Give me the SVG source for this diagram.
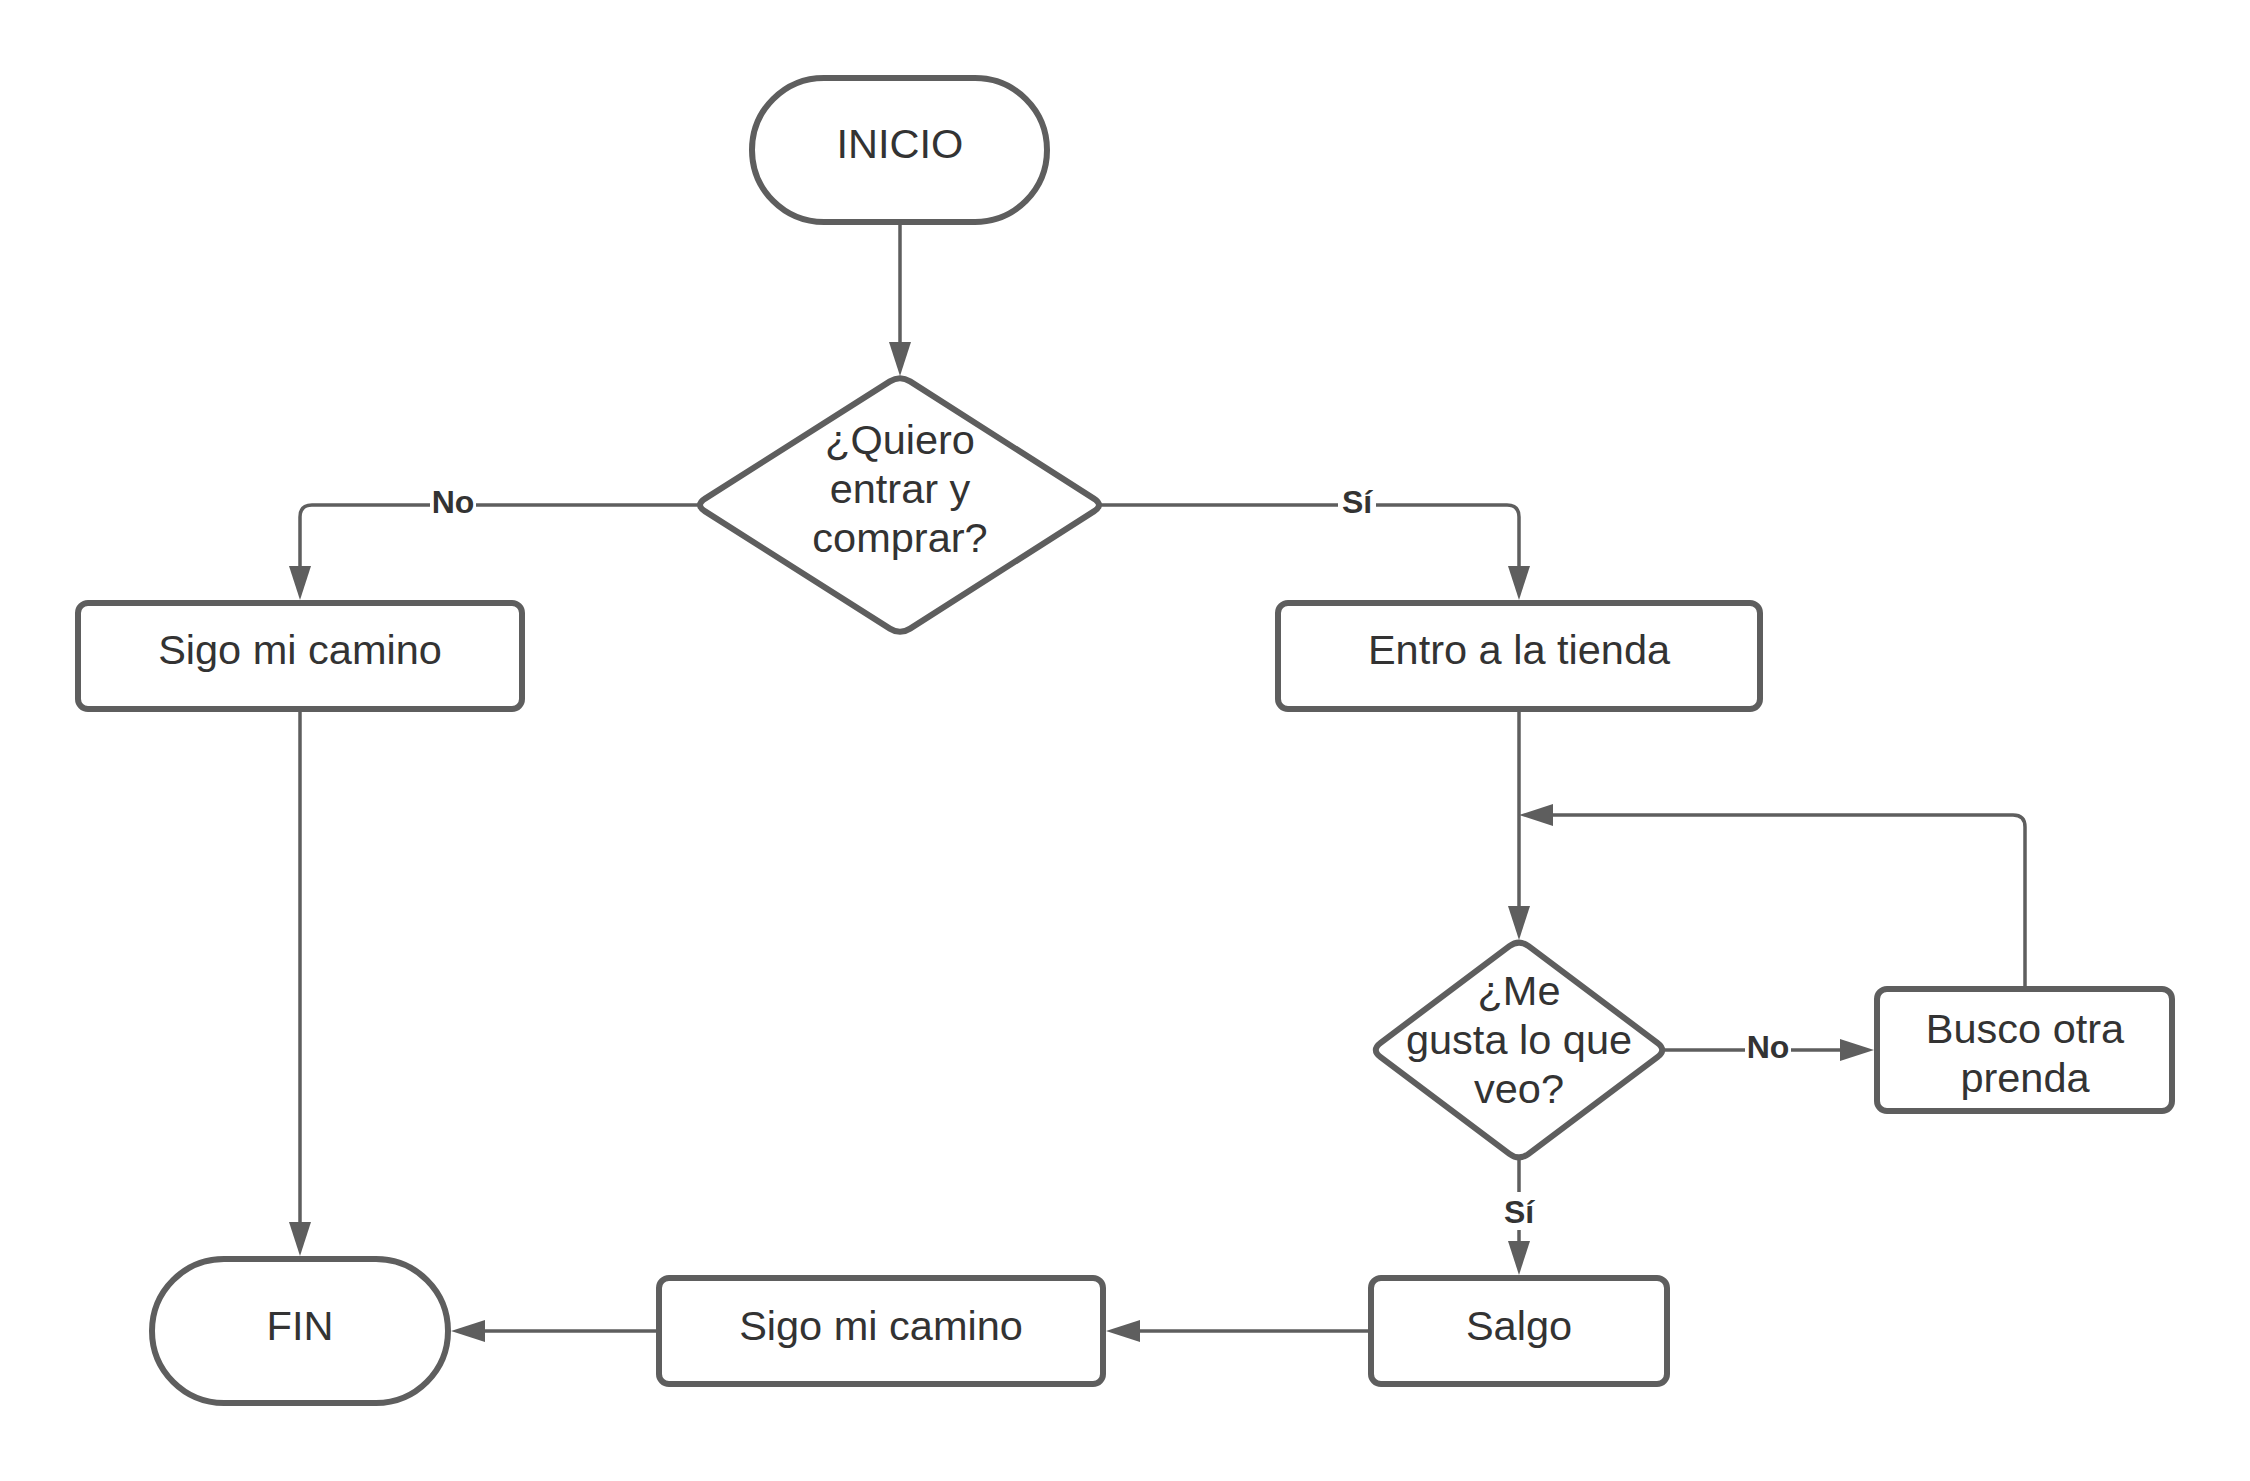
<svg xmlns="http://www.w3.org/2000/svg" width="2250" height="1481" viewBox="0 0 2250 1481">
<style>
.shape{fill:#ffffff;stroke:#5e5e5e;stroke-width:6;stroke-linejoin:round}
.t{font-family:"Liberation Sans",Arial,sans-serif;font-size:41.5px;fill:#333333;text-anchor:middle}
.conn{fill:none;stroke:#5e5e5e;stroke-width:3.5}
.lbl{font-family:"Liberation Sans",Arial,sans-serif;font-size:32px;font-weight:bold;fill:#333333;text-anchor:middle}
.lblbg{fill:#ffffff}
</style>
<defs>
<marker id="arrow" markerUnits="userSpaceOnUse" markerWidth="34" markerHeight="22" viewBox="0 0 34 22" refX="24" refY="11" orient="auto">
<path d="M0,0 L34,11 L0,22 Z" fill="#5e5e5e"/>
</marker>
</defs>
<rect width="2250" height="1481" fill="#ffffff"/>
<g id="connectors">
<path class="conn" d="M900,225 V366" marker-end="url(#arrow)"/>
<path class="conn" d="M699,505 H312 Q300,505 300,517 V590" marker-end="url(#arrow)"/>
<path class="conn" d="M1100,505 H1507 Q1519,505 1519,517 V590" marker-end="url(#arrow)"/>
<path class="conn" d="M1519,712 V930" marker-end="url(#arrow)"/>
<path class="conn" d="M1663,1050 H1864" marker-end="url(#arrow)"/>
<path class="conn" d="M2025,989 V827 Q2025,815 2013,815 H1529" marker-end="url(#arrow)"/>
<path class="conn" d="M1519,1157 V1265" marker-end="url(#arrow)"/>
<path class="conn" d="M1368,1331 H1116" marker-end="url(#arrow)"/>
<path class="conn" d="M656,1331 H461" marker-end="url(#arrow)"/>
<path class="conn" d="M300,712 V1246" marker-end="url(#arrow)"/>
<rect class="lblbg" x="430" y="486" width="46" height="36"/>
<text class="lbl" x="453" y="513">No</text>
<rect class="lblbg" x="1338" y="486" width="38" height="36"/>
<text class="lbl" x="1357" y="513">Sí</text>
<rect class="lblbg" x="1745" y="1031" width="46" height="36"/>
<text class="lbl" x="1768" y="1058">No</text>
<rect class="lblbg" x="1500" y="1192" width="38" height="38"/>
<text class="lbl" x="1519" y="1223">Sí</text>
</g>
<g id="inicio">
<rect class="shape" x="752" y="78" width="295" height="144" rx="72" ry="72"/>
<text class="t" x="900" y="158">INICIO</text>
</g>
<g id="decision1">
<path class="shape" d="M910.1,381.4 L1093.9,498.6 Q1104,505 1093.9,511.4 L910.1,628.6 Q900,635 889.9,628.6 L705.1,511.4 Q695,505 705.1,498.6 L889.9,381.4 Q900,375 910.1,381.4 Z"/>
<text class="t" x="900" y="454">¿Quiero</text>
<text class="t" x="900" y="503">entrar y</text>
<text class="t" x="900" y="552">comprar?</text>
</g>
<g id="sigo1">
<rect class="shape" x="78" y="603" width="444" height="106" rx="10" ry="10"/>
<text class="t" x="300" y="664">Sigo mi camino</text>
</g>
<g id="entro">
<rect class="shape" x="1278" y="603" width="482" height="106" rx="10" ry="10"/>
<text class="t" x="1519" y="664">Entro a la tienda</text>
</g>
<g id="decision2">
<path class="shape" d="M1528.6,946.2 L1657.4,1042.8 Q1667,1050 1657.4,1057.2 L1528.6,1153.8 Q1519,1161 1509.4,1153.8 L1380.6,1057.2 Q1371,1050 1380.6,1042.8 L1509.4,946.2 Q1519,939 1528.6,946.2 Z"/>
<text class="t" x="1519" y="1005">¿Me</text>
<text class="t" x="1519" y="1054">gusta lo que</text>
<text class="t" x="1519" y="1103">veo?</text>
</g>
<g id="busco">
<rect class="shape" x="1877" y="989" width="295" height="122" rx="10" ry="10"/>
<text class="t" x="2025" y="1043">Busco otra</text>
<text class="t" x="2025" y="1092">prenda</text>
</g>
<g id="salgo">
<rect class="shape" x="1371" y="1278" width="296" height="106" rx="10" ry="10"/>
<text class="t" x="1519" y="1340">Salgo</text>
</g>
<g id="sigo2">
<rect class="shape" x="659" y="1278" width="444" height="106" rx="10" ry="10"/>
<text class="t" x="881" y="1340">Sigo mi camino</text>
</g>
<g id="fin">
<rect class="shape" x="152" y="1259" width="296" height="144" rx="72" ry="72"/>
<text class="t" x="300" y="1340">FIN</text>
</g>
</svg>
